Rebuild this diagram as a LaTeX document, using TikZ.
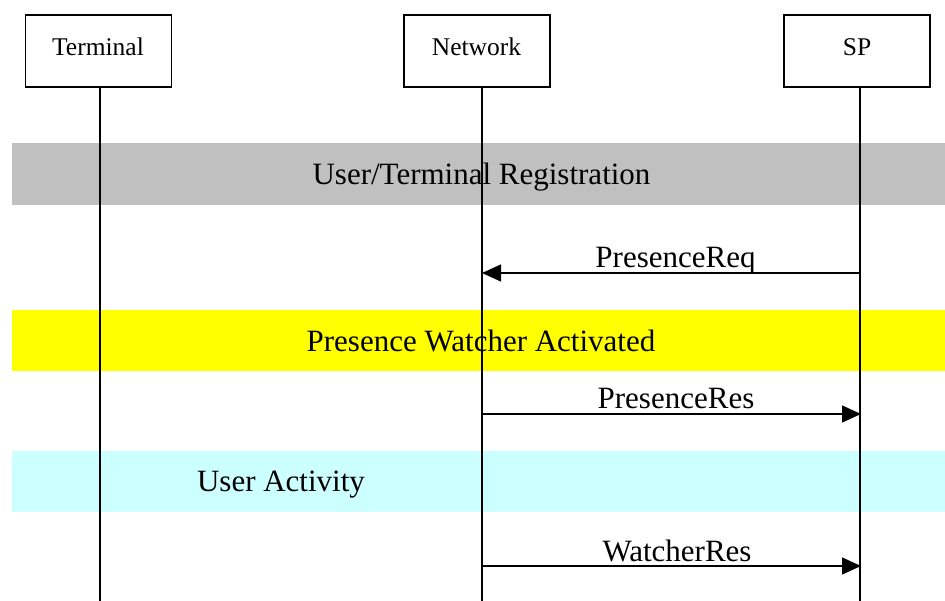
\documentclass[tikz,border=0pt]{standalone}
\usepackage{fontspec}
\setmainfont{Liberation Serif}
\usetikzlibrary{arrows.meta}
\definecolor{bandgray}{HTML}{C0C0C0}
\definecolor{bandyellow}{HTML}{FFFF00}
\definecolor{bandcyan}{HTML}{CCFFFF}
\begin{document}
\begin{tikzpicture}[x=1pt,y=-1pt,
  actor/.style={draw,line width=1.2pt,minimum width=146pt,minimum height=72pt,inner sep=0pt},
  actorlabel/.style={inner sep=0pt,anchor=base,font=\fontsize{25.5}{30}\selectfont},
  band/.style={inner sep=0pt,anchor=base,font=\fontsize{31}{36}\selectfont},
  life/.style={line width=1.3pt},
  msg/.style={line width=1.3pt,-{Triangle[length=19pt,width=17pt]}},
  msglabel/.style={inner sep=0pt,anchor=base,font=\fontsize{31}{36}\selectfont}]
\useasboundingbox (0,0) rectangle (945,601);
% bands
\fill[bandgray] (12,143) rectangle (945,205);
\fill[bandyellow] (12,310) rectangle (945,371);
\fill[bandcyan] (12,451) rectangle (945,512);
\node[band] (reg) at (481.5,185) {User/Terminal Registration};
\node[band] (watch) at (481,351.5) {Presence Watcher Activated};
\node[band] (act) at (281,491) {User Activity};
% actors
\node[actor] (term) at (98.5,51) {};
\node[actor] (net) at (477,51) {};
\node[actor] (sp) at (857,51) {};
\node[actorlabel] (termL) at (98,55.5) {Terminal};
\node[actorlabel] (netL) at (476.5,55.5) {Network};
\node[actorlabel] (spL) at (857,55.5) {SP};
% lifelines
\coordinate (termE) at (100,601);
\coordinate (netE) at (482,601);
\coordinate (spE) at (860,601);
\draw[life] (term.south -| termE) -- (termE);
\draw[life] (net.south -| netE) -- (netE);
\draw[life] (sp.south -| spE) -- (spE);
% messages
\coordinate (n1) at (482,273); \coordinate (s1) at (861,273);
\coordinate (n2) at (482,414); \coordinate (s2) at (861,414);
\coordinate (n3) at (482,566); \coordinate (s3) at (861,566);
\draw[msg] (s1) -- (n1);
\draw[msg] (n2) -- (s2);
\draw[msg] (n3) -- (s3);
\node[msglabel] (l1) at (675.5,268) {PresenceReq};
\node[msglabel] (l2) at (676,408.5) {PresenceRes};
\node[msglabel] (l3) at (677,561.5) {WatcherRes};
\end{tikzpicture}
\end{document}
